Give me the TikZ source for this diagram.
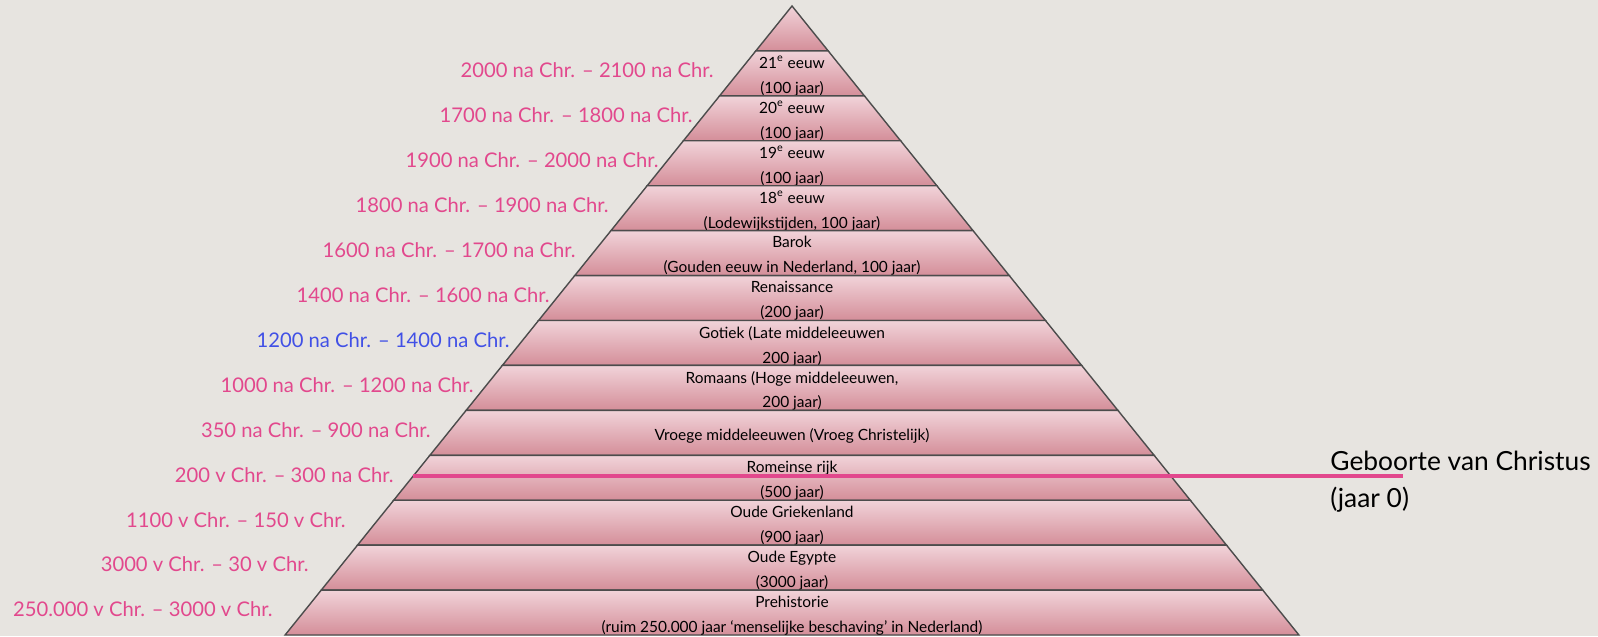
\documentclass[tikz,border=0pt]{standalone}
\usepackage{fontspec}
\setmainfont{Lato}
\usetikzlibrary{positioning}
\definecolor{datumroze}{HTML}{E2488D}
\definecolor{datumblauw}{HTML}{4150E6}
\definecolor{laaglicht}{HTML}{F1D3D9}
\definecolor{laagmidden}{HTML}{E9C3CA}
\definecolor{laagdonker}{HTML}{D48E99}
\definecolor{achtergrond}{HTML}{E7E4E0}
\tikzset{
  laag/.style={draw=black!70, line width=0.8pt, top color=laaglicht, middle color=laagmidden, bottom color=laagdonker},
  tijdperk/.style={font=\fontsize{8.8}{14.2}\selectfont, align=center, inner sep=0pt},
  datum/.style={font=\fontsize{11.5}{13}\selectfont, anchor=east, inner sep=0pt},
  christuslijn/.style={draw=datumroze, line width=2.3pt},
}

\begin{document}
\begin{tikzpicture}[x=0.02cm, y=-0.02cm]
  \fill[achtergrond] (0,0) rectangle (1598,636);
  \useasboundingbox (0,0) rectangle (1598,636);

  % top van de piramide
  \path[laag] (792,6) -- (828.21,50.93) -- (755.79,50.93) -- cycle;

  % lagen, van boven naar beneden
  \foreach \k/\tekst/\datum/\eind/\kleur in {
    1/{21\textsuperscript{e} eeuw\\(100 jaar)}/{2000 na Chr. – 2100 na Chr.}/714/datumroze,
    2/{20\textsuperscript{e} eeuw\\(100 jaar)}/{1700 na Chr. – 1800 na Chr.}/693/datumroze,
    3/{19\textsuperscript{e} eeuw\\(100 jaar)}/{1900 na Chr. – 2000 na Chr.}/659/datumroze,
    4/{18\textsuperscript{e} eeuw\\(Lodewijkstijden, 100 jaar)}/{1800 na Chr. – 1900 na Chr.}/609/datumroze,
    5/{Barok\\(Gouden eeuw in Nederland, 100 jaar)}/{1600 na Chr. – 1700 na Chr.}/576/datumroze,
    6/{Renaissance\\(200 jaar)}/{1400 na Chr. – 1600 na Chr.}/550/datumroze,
    7/{Gotiek (Late middeleeuwen\\200 jaar)}/{1200 na Chr. – 1400 na Chr.}/510/datumblauw,
    8/{Romaans (Hoge middeleeuwen,\\200 jaar)}/{1000 na Chr. – 1200 na Chr.}/474/datumroze,
    9/{Vroege middeleeuwen (Vroeg Christelijk)}/{350 na Chr. – 900 na Chr.}/431/datumroze,
    10/{Romeinse rijk\\(500 jaar)}/{200 v Chr. – 300 na Chr.}/394/datumroze,
    11/{Oude Griekenland\\(900 jaar)}/{1100 v Chr. – 150 v Chr.}/346/datumroze,
    12/{Oude Egypte\\(3000 jaar)}/{3000 v Chr. – 30 v Chr.}/309/datumroze,
    13/{Prehistorie\\(ruim 250.000 jaar ‘menselijke beschaving’ in Nederland)}/{250.000 v Chr. – 3000 v Chr.}/273/datumroze%
  }{
    \pgfmathsetmacro{\boven}{6+44.93*\k}
    \pgfmathsetmacro{\onder}{6+44.93*(\k+1)}
    \pgfmathsetmacro{\bb}{36.21*\k}
    \pgfmathsetmacro{\bo}{36.21*(\k+1)}
    \pgfmathsetmacro{\midden}{6+44.93*(\k+0.5)}
    \path[laag] (792-\bb,\boven) -- (792+\bb,\boven) -- (792+\bo,\onder) -- (792-\bo,\onder) -- cycle;
    \node[tijdperk] (laag\k) at (792,\midden+3) {\tekst};
    \node[datum, text=\kleur] (datum\k) at (\eind,\midden-3) {\datum};
  }

  % geboorte van Christus
  \node[anchor=west, align=left, inner sep=0pt, font=\fontsize{15}{21}\selectfont] (geboorte) at (1330,481.5) {Geboorte van Christus\\(jaar 0)};
  \coordinate (christus-begin) at (413,476);
  \coordinate (christus-eind) at (1403,476);
  \draw[christuslijn] (christus-begin) -- (christus-eind);
\end{tikzpicture}
\end{document}
